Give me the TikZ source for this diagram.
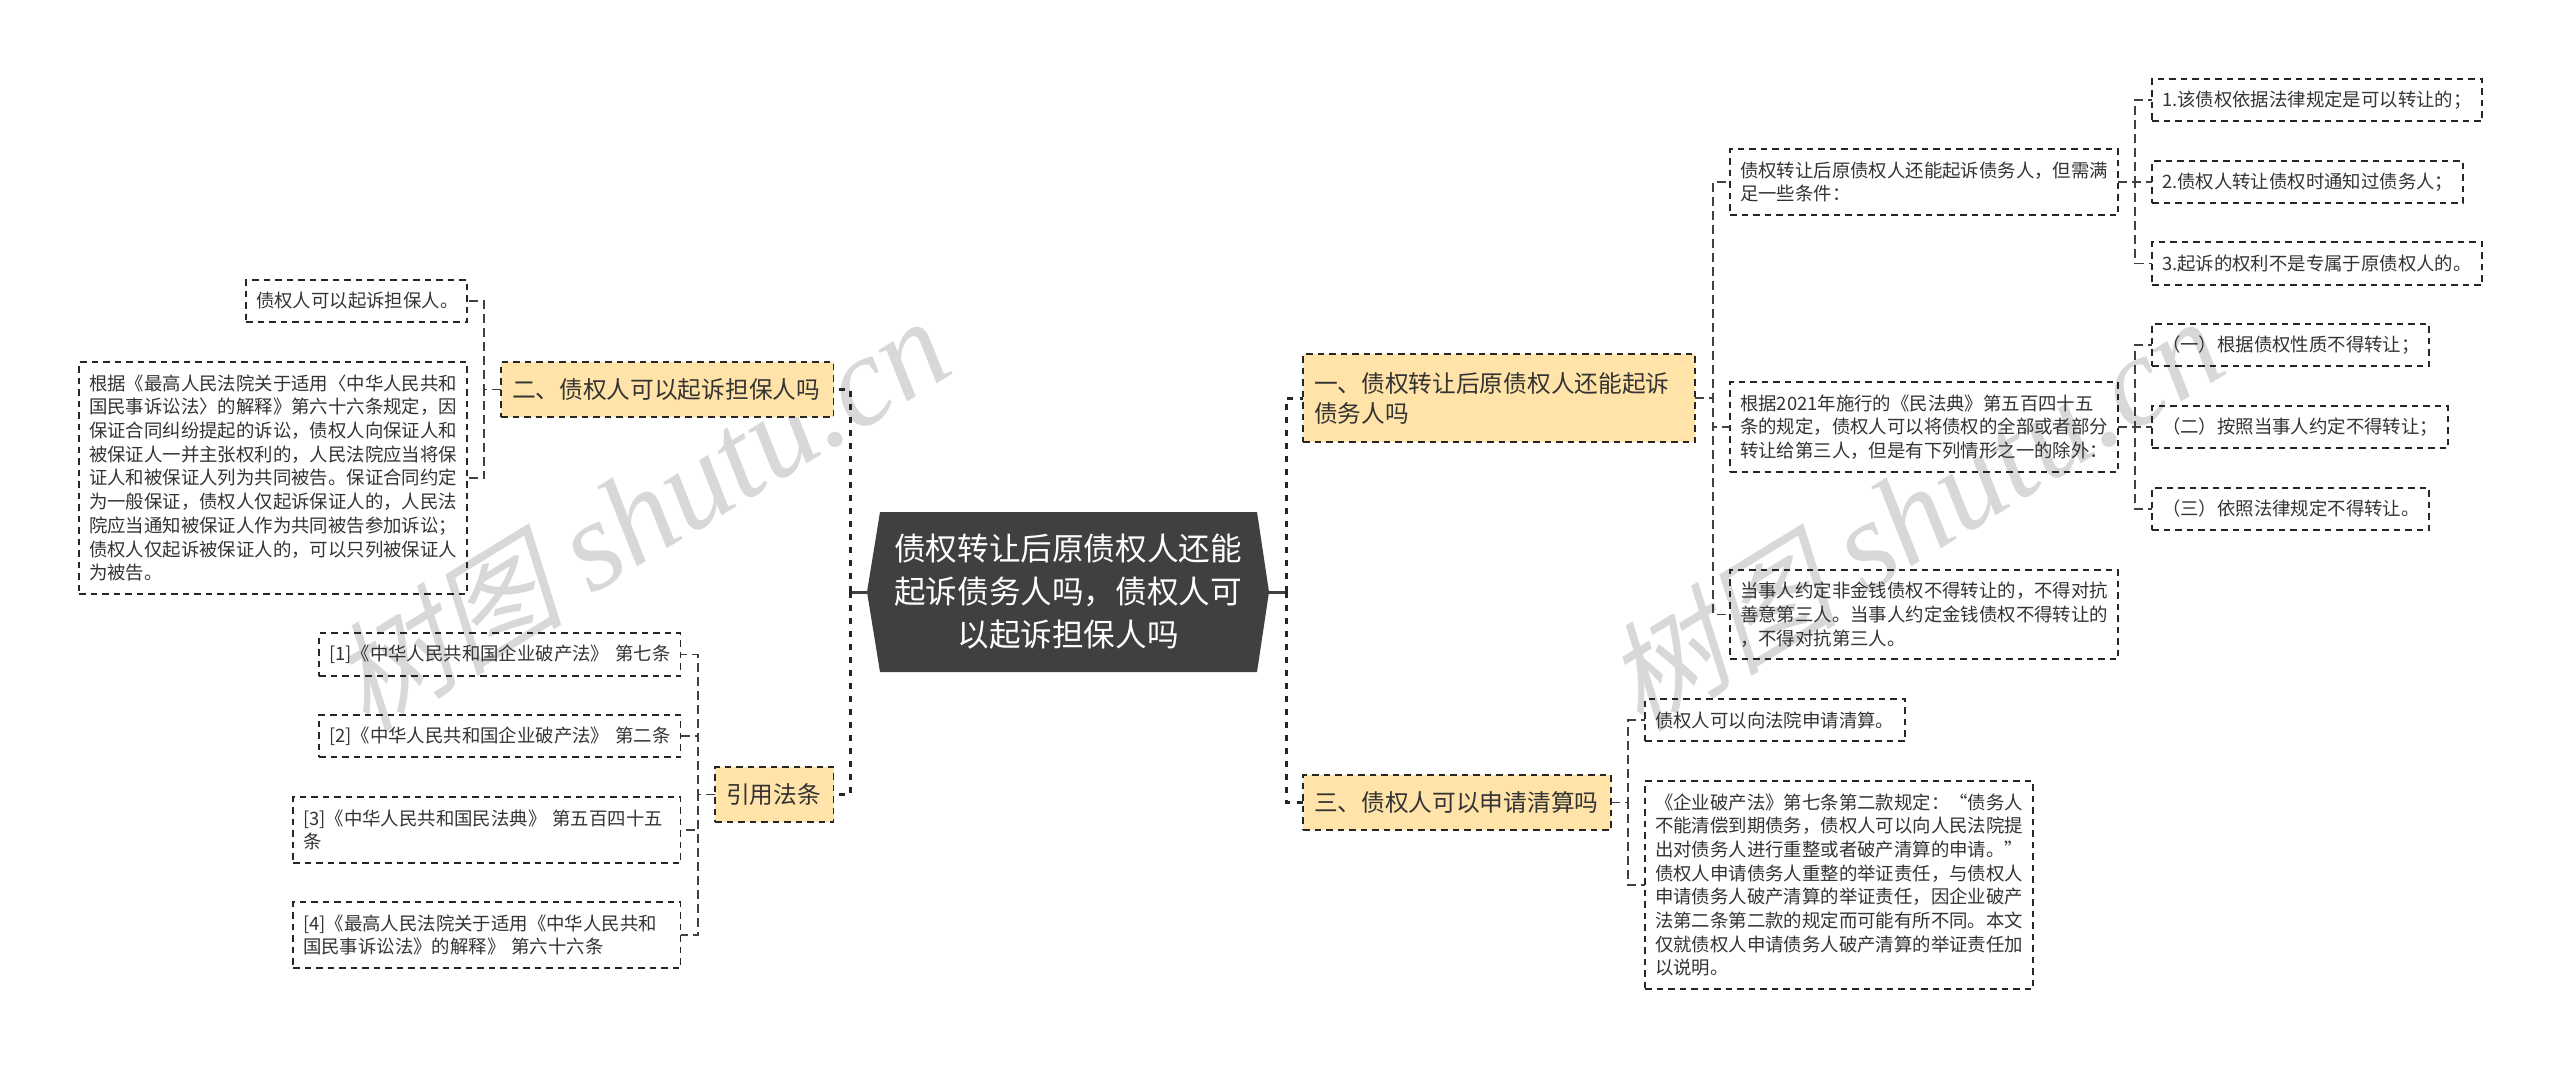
\documentclass[tikz,border=0pt]{standalone}
\usepackage{fontspec}
\setmainfont{Noto Sans CJK SC}
\newfontfamily\wmcjk[FakeSlant=0.25]{Noto Sans CJK SC}
\newfontfamily\wmlat{Liberation Serif}
\definecolor{rootgray}{HTML}{404040}
\definecolor{topicfill}{HTML}{FFE3A8}
\definecolor{inktext}{HTML}{333333}
\definecolor{wmgray}{HTML}{D8D8D8}
\tikzset{
  boxbase/.style={draw=black!85,line width=1.6pt,dash pattern=on 6.5pt off 5pt,outer sep=0pt,inner ysep=0pt,align=left,text=inktext},
  leafbox/.style={boxbase,inner xsep=10pt,font=\fontsize{18.4}{23.7}\selectfont},
  topicbox/.style={boxbase,fill=topicfill,inner xsep=11pt,font=\fontsize{23.7}{30}\selectfont},
  rootbox/.style={outer sep=0pt,inner sep=0pt,align=center,text=white,font=\fontsize{31.6}{43}\selectfont},
  busmain/.style={draw=black!85,line width=3pt,dash pattern=on 6pt off 7pt},
  bussub/.style={draw=black!75,line width=1.4pt,dash pattern=on 9pt off 5pt},
  stemsolid/.style={draw=rootgray,line width=3pt},
  watermark/.style={text=wmgray,rotate=31.5,inner sep=0pt,anchor=base west}
}
\newcommand{\bx}[7]{%
  \pgfmathsetmacro{\bxcx}{(#3+#5)/2}%
  \pgfmathsetmacro{\bxcy}{(#4+#6)/2}%
  \pgfmathsetmacro{\bxw}{#5-#3}%
  \pgfmathsetmacro{\bxh}{#6-#4}%
  \pgfmathsetmacro{\bxt}{#5-#3-2*\bxsep}%
  \node[#1,minimum width=\bxw pt,minimum height=\bxh pt,text width=\bxt pt] (#2) at (\bxcx,\bxcy) {#7};%
}
\newcommand{\bxsep}{10}
\newcommand{\wmtext}{\fontsize{118}{118}\selectfont\wmcjk 树图\hspace{28pt}\fontsize{128}{128}\selectfont\wmlat\itshape shutu.cn}
\begin{document}
\begin{tikzpicture}[x=1pt,y=-1pt]
\useasboundingbox (0,0) rectangle (2560,1068);
% watermarks
\node[watermark] (wma) at (366,734) {\wmtext};
\node[watermark] (wmb) at (1640,734) {\wmtext};
% root
\fill[rootgray] (880,512) -- (1257,512) -- (1269,592) -- (1257,672) -- (880,672) -- (867,592) -- cycle;
\node[rootbox,minimum width=402pt,minimum height=160pt] (root) at (1068,592) {债权转让后原债权人还能\\起诉债务人吗，债权人可\\以起诉担保人吗};
% topics
\renewcommand{\bxsep}{11}
\bx{topicbox}{tb}{501}{362}{833.5}{417}{二、债权人可以起诉担保人吗}
\bx{topicbox}{tc}{715}{767}{833.5}{822}{引用法条}
\bx{topicbox}{ta}{1303}{354}{1695}{442}{一、债权转让后原债权人还能起诉\\债务人吗}
\bx{topicbox}{td}{1303}{775}{1611}{830}{三、债权人可以申请清算吗}
% left leaves
\renewcommand{\bxsep}{10}
\bx{leafbox}{ba}{246}{280}{467}{322}{债权人可以起诉担保人。}
\bx{leafbox}{bb}{79}{362}{467}{594}{根据《最高人民法院关于适用〈中华人民共和\\国民事诉讼法〉的解释》第六十六条规定，因\\保证合同纠纷提起的诉讼，债权人向保证人和\\被保证人一并主张权利的，人民法院应当将保\\证人和被保证人列为共同被告。保证合同约定\\为一般保证，债权人仅起诉保证人的，人民法\\院应当通知被保证人作为共同被告参加诉讼；\\债权人仅起诉被保证人的，可以只列被保证人\\为被告。}
\bx{leafbox}{ca}{319}{633}{680.5}{676}{\mbox{[1]《中华人民共和国企业破产法》 第七条}}
\bx{leafbox}{cb}{319}{715}{680.5}{757}{\mbox{[2]《中华人民共和国企业破产法》 第二条}}
\bx{leafbox}{cc}{293}{797}{680.5}{863}{[3]《中华人民共和国民法典》 第五百四十五\\条}
\bx{leafbox}{cd}{293}{902}{680.5}{968}{[4]《最高人民法院关于适用《中华人民共和\\国民事诉讼法》的解释》 第六十六条}
% right mid
\bx{leafbox}{ma}{1730}{149}{2118}{215}{债权转让后原债权人还能起诉债务人，但需满\\足一些条件：}
\bx{leafbox}{mb}{1730}{382}{2118}{472}{根据2021年施行的《民法典》第五百四十五\\条的规定，债权人可以将债权的全部或者部分\\转让给第三人，但是有下列情形之一的除外：}
\bx{leafbox}{mc}{1730}{570}{2118}{659}{当事人约定非金钱债权不得转让的，不得对抗\\善意第三人。当事人约定金钱债权不得转让的\\，不得对抗第三人。}
% right far
\bx{leafbox}{ra}{2152}{79}{2482}{121}{1.该债权依据法律规定是可以转让的；}
\bx{leafbox}{rb}{2152}{161}{2463}{203}{2.债权人转让债权时通知过债务人；}
\bx{leafbox}{rc}{2152}{242}{2482}{285}{3.起诉的权利不是专属于原债权人的。}
\bx{leafbox}{sa}{2152}{324}{2429}{366}{（一）根据债权性质不得转让；}
\bx{leafbox}{sb}{2152}{406}{2448}{448}{（二）按照当事人约定不得转让；}
\bx{leafbox}{sc}{2152}{488}{2429}{530}{（三）依照法律规定不得转让。}
% lower right
\bx{leafbox}{na}{1645}{699}{1905}{741}{债权人可以向法院申请清算。}
\bx{leafbox}{nb}{1645}{781}{2033}{989}{《企业破产法》第七条第二款规定：“债务人\\不能清偿到期债务，债权人可以向人民法院提\\出对债务人进行重整或者破产清算的申请。”\\债权人申请债务人重整的举证责任，与债权人\\申请债务人破产清算的举证责任，因企业破产\\法第二条第二款的规定而可能有所不同。本文\\仅就债权人申请债务人破产清算的举证责任加\\以说明。}
% buses
\coordinate (busl) at (850,592);
\coordinate (busr) at (1286,592);
\draw[stemsolid] (root.west) -- (busl);
\draw[stemsolid] (root.east) -- (busr);
\draw[busmain] (busl) |- (tb.east);
\draw[busmain] (busl) |- (tc.east);
\draw[busmain] (busr) |- (ta.west);
\draw[busmain] (busr) |- (td.west);
% sub connectors
\draw[bussub] (tb.west) -- ++(-17,0) |- (ba.east);
\draw[bussub] (tb.west) -- ++(-17,0) |- (bb.east);
\foreach \k in {ca,cb,cc,cd}{\draw[bussub] (tc.west) -- ++(-17,0) |- (\k.east);}
\foreach \k in {ma,mb,mc}{\draw[bussub] (ta.east) -- ++(18,0) |- (\k.west);}
\foreach \k in {ra,rb,rc}{\draw[bussub] (ma.east) -- ++(17,0) |- (\k.west);}
\foreach \k in {sa,sb,sc}{\draw[bussub] (mb.east) -- ++(17,0) |- (\k.west);}
\foreach \k in {na,nb}{\draw[bussub] (td.east) -- ++(17,0) |- (\k.west);}
\end{tikzpicture}
\end{document}
